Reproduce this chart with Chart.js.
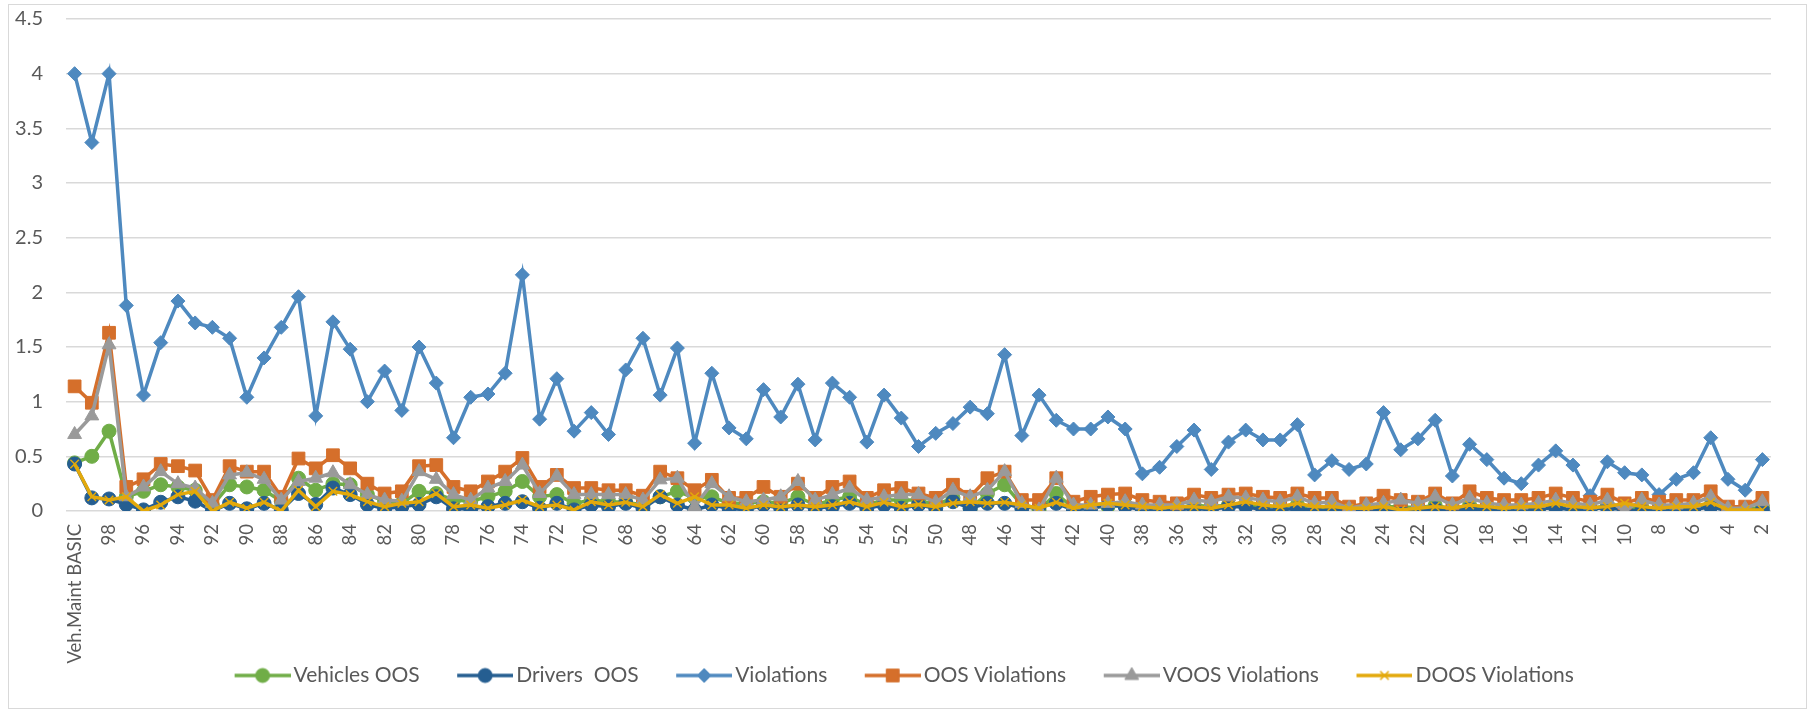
<!DOCTYPE html>
<html>
<head>
<meta charset="utf-8">
<script src="https://cdn.jsdelivr.net/npm/chart.js@4.4.1/dist/chart.umd.min.js"></script>
<style>
  body { margin: 0; background: #fff; }
</style>
</head>
<body>
<canvas id="chart" width="1808" height="712"></canvas>
<script>
// Categories (first one is the BASIC total, then carriers 99 .. 2)
const categories = ["Veh.Maint BASIC",
  "99","98","97","96","95","94","93","92","91","90","89","88","87","86","85","84","83","82","81","80",
  "79","78","77","76","75","74","73","72","71","70","69","68","67","66","65","64","63","62","61","60",
  "59","58","57","56","55","54","53","52","51","50","49","48","47","46","45","44","43","42","41","40",
  "39","38","37","36","35","34","33","32","31","30","29","28","27","26","25","24","23","22","21","20",
  "19","18","17","16","15","14","13","12","11","10","9","8","7","6","5","4","3","2"];

const yTicks = [0, 0.5, 1, 1.5, 2, 2.5, 3, 3.5, 4, 4.5];

const vehiclesOOS = [0.44,0.50,0.73,0.13,0.18,0.24,0.22,0.19,0.05,0.24,0.22,0.19,0.09,0.30,0.19,0.25,0.24,0.15,0.09,0.07,
  0.18,0.16,0.10,0.09,0.13,0.18,0.27,0.13,0.15,0.07,0.10,0.085,0.08,0.055,0.13,0.18,0.12,0.13,0.07,0.07,
  0.085,0.07,0.13,0.055,0.10,0.13,0.055,0.10,0.10,0.10,0.055,0.12,0.02,0.16,0.24,0.055,0.01,0.16,0.025,0.04,
  0.04,0.055,0.025,0.025,0.025,0.055,0.04,0.055,0.055,0.04,0.04,0.055,0.025,0.04,0.01,0.03,0.04,0.04,0.03,0.05,
  0.02,0.05,0.03,0.02,0.03,0.03,0.04,0.03,0.02,0.05,0.02,0.03,0.02,0.03,0.03,0.05,0.01,0.01,0.04];

const driversOOS = [0.43,0.12,0.11,0.06,0.01,0.08,0.13,0.09,0.00,0.07,0.02,0.07,0.01,0.16,0.06,0.21,0.15,0.06,0.02,0.04,
  0.06,0.13,0.02,0.02,0.04,0.07,0.085,0.025,0.07,0.01,0.055,0.04,0.07,0.025,0.13,0.055,0.01,0.055,0.025,0.01,
  0.055,0.025,0.055,0.025,0.04,0.07,0.025,0.055,0.025,0.055,0.025,0.085,0.025,0.07,0.07,0.025,0.04,0.07,0.01,0.025,
  0.055,0.04,0.01,0.01,0.01,0.025,0.01,0.04,0.04,0.01,0.01,0.025,0.00,0.01,0.01,0.00,0.02,0.01,0.00,0.02,
  0.00,0.02,0.01,0.00,0.01,0.02,0.03,0.01,0.02,0.03,0.01,0.00,0.01,0.01,0.01,0.04,0.00,0.00,0.01];

const violations = [4.00,3.37,4.00,1.88,1.06,1.54,1.92,1.72,1.68,1.58,1.04,1.40,1.68,1.96,0.87,1.73,1.48,1.00,1.28,0.92,
  1.50,1.17,0.67,1.04,1.07,1.26,2.16,0.84,1.21,0.73,0.90,0.70,1.29,1.58,1.06,1.49,0.62,1.26,0.76,0.66,
  1.11,0.86,1.16,0.65,1.17,1.04,0.63,1.06,0.85,0.59,0.71,0.80,0.95,0.89,1.43,0.69,1.06,0.83,0.75,0.75,
  0.86,0.75,0.34,0.40,0.59,0.74,0.38,0.63,0.74,0.65,0.65,0.79,0.33,0.46,0.38,0.43,0.90,0.56,0.66,0.83,
  0.32,0.61,0.47,0.30,0.25,0.42,0.55,0.42,0.14,0.45,0.35,0.33,0.15,0.29,0.35,0.67,0.29,0.19,0.47];

const oosViolations = [1.14,0.99,1.63,0.22,0.29,0.43,0.41,0.37,0.10,0.41,0.36,0.36,0.13,0.48,0.39,0.51,0.39,0.25,0.16,0.18,
  0.41,0.42,0.22,0.18,0.27,0.36,0.485,0.22,0.33,0.21,0.21,0.19,0.19,0.14,0.36,0.30,0.19,0.285,0.12,0.12,
  0.22,0.13,0.25,0.12,0.22,0.27,0.12,0.19,0.21,0.16,0.12,0.24,0.13,0.30,0.36,0.10,0.10,0.30,0.085,0.13,
  0.15,0.16,0.10,0.085,0.07,0.15,0.12,0.15,0.16,0.13,0.12,0.16,0.12,0.12,0.04,0.07,0.14,0.10,0.085,0.16,
  0.07,0.18,0.12,0.10,0.10,0.12,0.16,0.12,0.085,0.15,0.07,0.12,0.085,0.10,0.10,0.18,0.04,0.04,0.12];

const voosViolations = [0.70,0.87,1.52,0.13,0.22,0.36,0.25,0.21,0.07,0.33,0.35,0.29,0.10,0.27,0.30,0.35,0.24,0.15,0.10,0.09,
  0.36,0.29,0.15,0.10,0.21,0.27,0.42,0.16,0.32,0.15,0.15,0.15,0.15,0.10,0.285,0.30,0.04,0.25,0.13,0.085,
  0.10,0.13,0.27,0.10,0.15,0.21,0.10,0.13,0.15,0.15,0.08,0.19,0.13,0.19,0.36,0.07,0.01,0.30,0.055,0.055,
  0.07,0.085,0.055,0.055,0.055,0.10,0.085,0.13,0.12,0.10,0.085,0.13,0.07,0.085,0.025,0.055,0.07,0.10,0.07,0.13,
  0.055,0.12,0.07,0.055,0.055,0.07,0.10,0.07,0.055,0.10,0.00,0.10,0.055,0.055,0.07,0.13,0.025,0.025,0.085];

const doosViolations = [0.43,0.13,0.10,0.13,0.00,0.055,0.15,0.18,0.00,0.08,0.025,0.08,0.00,0.19,0.04,0.18,0.15,0.085,0.04,0.07,
  0.085,0.16,0.04,0.055,0.025,0.055,0.10,0.04,0.055,0.01,0.085,0.055,0.08,0.04,0.15,0.07,0.13,0.055,0.055,0.025,
  0.055,0.04,0.055,0.04,0.055,0.085,0.04,0.08,0.04,0.06,0.04,0.07,0.085,0.07,0.08,0.055,0.025,0.08,0.025,0.055,
  0.07,0.055,0.04,0.025,0.04,0.04,0.025,0.055,0.085,0.055,0.04,0.07,0.04,0.04,0.025,0.025,0.04,0.01,0.025,0.04,
  0.025,0.055,0.04,0.025,0.04,0.04,0.07,0.04,0.03,0.04,0.07,0.04,0.025,0.04,0.04,0.08,0.01,0.01,0.01];

// series look: [label, data, colour, marker, radius]
const series = [
  ["Vehicles OOS", vehiclesOOS, "#70ad47", "circle", 7],
  ["Drivers  OOS", driversOOS, "#255e91", "circle", 7],
  ["Violations", violations, "#4e89bf", "rectRot", 7],
  ["OOS Violations", oosViolations, "#d56f2b", "rect", 9],
  ["VOOS Violations", voosViolations, "#9a9a9a", "triangle", 8],
  ["DOOS Violations", doosViolations, "#e3a90b", "crossRot", 6]
];

const FONT = "Lato, 'Open Sans', sans-serif";
const TEXT = "#595959";
const LEGEND_SIZE = 21;

// legend icon: short line with the marker, sitting at the right end of a wider
// transparent canvas so the gap before the next item matches Excel
const ICON_BOX = 86;
function legendIcon(color, style, radius) {
  const c = document.createElement("canvas");
  c.width = ICON_BOX + 15; c.height = 22;
  const x0 = c.width - 56;
  const g = c.getContext("2d");
  g.strokeStyle = color;
  g.lineWidth = 3.5;
  g.beginPath(); g.moveTo(x0, 11); g.lineTo(c.width, 11); g.stroke();
  g.fillStyle = color;
  g.lineWidth = style === "crossRot" ? 1.5 : 1;
  Chart.helpers.drawPoint(g, { pointStyle: style, radius: radius, borderWidth: g.lineWidth }, x0 + 28, 11);
  return c;
}
const icons = series.map(s => legendIcon(s[2], s[3], s[4]));

const datasets = series.map((s, i) => ({
  label: s[0],
  data: s[1],
  borderColor: s[2],
  backgroundColor: s[2],
  borderWidth: 3.5,
  pointStyle: s[3],
  pointRadius: s[4],
  pointHoverRadius: s[4],
  pointBorderWidth: s[3] === "crossRot" ? 1.5 : 1,
  pointBackgroundColor: s[2],
  pointBorderColor: s[2],
  tension: 0,
  order: series.length - i   // later series drawn on top, like the original
}));

const frame = {
  id: "frame",
  beforeDraw(chart) {
    const ctx = chart.ctx;
    ctx.save();
    ctx.fillStyle = "#fff";
    ctx.fillRect(0, 0, chart.width, chart.height);
    ctx.restore();
  },
  afterDraw(chart) {
    const ctx = chart.ctx;
    ctx.save();
    ctx.strokeStyle = "#d9d9d9";
    ctx.lineWidth = 1;
    ctx.strokeRect(8.5, 4.5, 1798, 704);
    ctx.restore();
  }
};

new Chart(document.getElementById("chart"), {
  type: "line",
  data: { labels: categories, datasets: datasets },
  plugins: [frame],
  options: {
    responsive: false,
    animation: false,
    layout: { padding: { top: 19, right: 37, bottom: 16, left: 0 } },
    plugins: {
      tooltip: { enabled: false },
      legend: {
        position: "bottom",
        labels: {
          usePointStyle: true,
          pointStyleWidth: ICON_BOX,
          padding: 0,
          color: TEXT,
          font: { family: FONT, size: LEGEND_SIZE },
          generateLabels: chart => chart.data.datasets.map((ds, i) => ({
            text: ds.label,
            pointStyle: icons[i],
            fillStyle: ds.borderColor,
            strokeStyle: ds.borderColor,
            lineWidth: 0,
            hidden: false,
            fontColor: TEXT,
            datasetIndex: i
          }))
        }
      }
    },
    scales: {
      x: {
        offset: true,
        grid: { display: false, drawTicks: false },
        border: { display: false },
        ticks: {
          autoSkip: false,
          minRotation: 90,
          maxRotation: 90,
          padding: 13,
          color: TEXT,
          font: { family: FONT, size: 18.5 },
          callback: function (val, idx) { return idx % 2 === 0 ? this.getLabelForValue(val) : ""; }
        },
        afterFit: scale => { scale.height = 154; }
      },
      y: {
        min: yTicks[0],
        max: yTicks[yTicks.length - 1],
        afterBuildTicks: scale => { scale.ticks = yTicks.map(v => ({ value: v })); },
        grid: { color: "#d9d9d9", lineWidth: 1.5, drawTicks: false },
        border: { display: false },
        ticks: {
          padding: 23,
          color: TEXT,
          font: { family: FONT, size: 20 },
          callback: v => String(v)
        },
        afterFit: scale => {
          scale.width = 66;
          scale.paddingTop = 0;
          scale.paddingBottom = 0;
        }
      }
    }
  }
});
</script>
</body>
</html>
